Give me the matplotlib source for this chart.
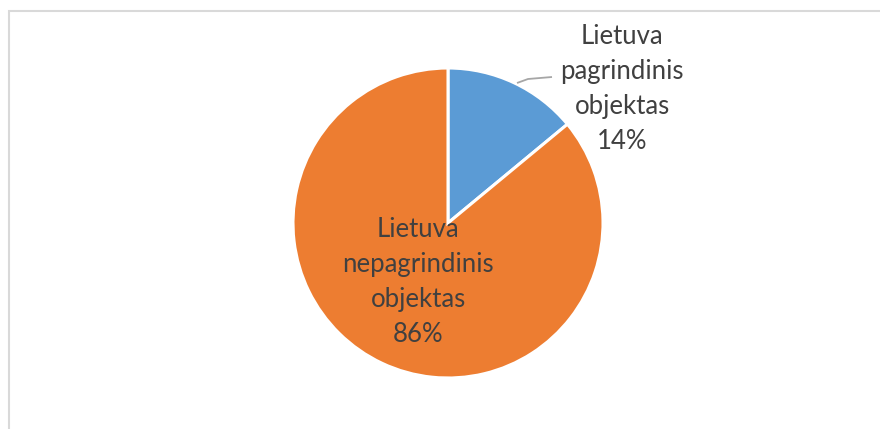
import matplotlib
matplotlib.use("Agg")
import matplotlib.pyplot as plt
from matplotlib.patches import Rectangle

categories = ["Lietuva\npagrindinis\nobjektas", "Lietuva\nnepagrindinis\nobjektas"]
values = [14, 86]
colors = ["#5B9BD5", "#ED7D31"]

W, H = 880, 429
fig = plt.figure(figsize=(W / 100, H / 100), dpi=100)
ax = fig.add_axes([0, 0, 1, 1])

cx, cy, r = 448, H - 223, 155
ax.pie(values, colors=colors, startangle=90, counterclock=False,
       center=(cx, cy), radius=r,
       wedgeprops=dict(edgecolor="white", linewidth=2.2))
ax.set_xlim(0, W)
ax.set_ylim(0, H)
ax.set_aspect("equal")
ax.axis("off")

total = sum(values)
labels = [f"{c}\n{round(v / total * 100)}%" for c, v in zip(categories, values)]
font = dict(family=["Lato", "DejaVu Sans"], fontsize=18.5, color="#404040",
            ha="center", va="center", linespacing=1.5)
ax.text(622, H - 89, labels[0], **font)
ax.text(418, H - 282, labels[1], **font)

# leader line
ax.plot([517, 528, 552], [H - 83, H - 79, H - 77], color="#A6A6A6", lw=1.3,
        solid_capstyle="butt")

# chart frame
ax.add_patch(Rectangle((9, -10), W, H - 11 + 10, fill=False,
                       edgecolor="#D9D9D9", lw=1.5, clip_on=False))

fig.savefig("out.png", dpi=100)
